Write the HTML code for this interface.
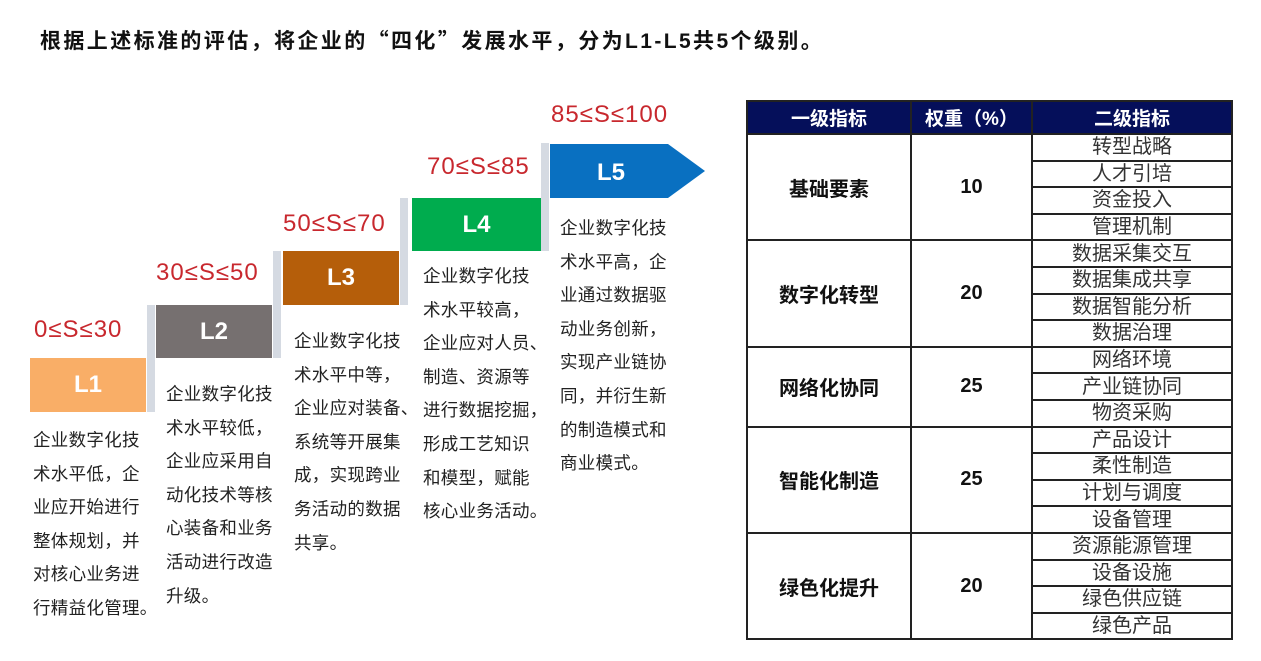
<!DOCTYPE html>
<html><head><meta charset="utf-8"><style>
body{margin:0;width:1261px;height:661px;background:#fff;position:relative;overflow:hidden;font-family:"Liberation Sans","Noto Sans CJK SC",sans-serif}
.a{position:absolute}
.title{left:40px;top:25px;font-size:21px;font-weight:bold;color:#111;white-space:nowrap;letter-spacing:2.4px}
.q{font-family:"Noto Sans CJK SC",sans-serif}
.lab{color:#C8282E;font-size:24px;white-space:nowrap;letter-spacing:1px}
.box{color:#fff;font-weight:bold;font-size:24px;display:flex;align-items:center;justify-content:center}
.bar{background:#D5DAE2;width:8px}
.txt{font-size:17.5px;line-height:33.6px;color:#222;white-space:pre;letter-spacing:0.3px}
table{position:absolute;left:746px;top:100px;width:487px;border-collapse:collapse;font-family:"Liberation Sans","Noto Sans CJK SC",sans-serif}
td,th{border:2px solid #222;padding:0;text-align:center;color:#222}
th{background:#050F5A;color:#fff;height:31px;font-size:19px;font-weight:bold}
td.s{font-size:20px;height:24.6px;line-height:22px;color:#333}
td.g{font-size:20px;font-weight:bold;color:#111}
</style></head><body>
<div class="a title">根据上述标准的评估，将企业的<span class="q">“</span>四化<span class="q">”</span>发展水平，分为L1-L5共5个级别。</div>

<div class="a lab" style="left:34px;top:316px">0≤S≤30</div>
<div class="a lab" style="left:156px;top:259px">30≤S≤50</div>
<div class="a lab" style="left:283px;top:210px">50≤S≤70</div>
<div class="a lab" style="left:427px;top:153px">70≤S≤85</div>
<div class="a lab" style="left:551px;top:101px">85≤S≤100</div>

<div class="a box" style="left:30px;top:358px;width:116px;height:54px;background:#F9AE67">L1</div>
<div class="a bar" style="left:147px;top:305px;height:107px"></div>
<div class="a box" style="left:156px;top:305px;width:116px;height:53px;background:#767070">L2</div>
<div class="a bar" style="left:273px;top:251px;height:107px"></div>
<div class="a box" style="left:283px;top:251px;width:116px;height:54px;background:#B55E0A">L3</div>
<div class="a bar" style="left:400px;top:198px;height:107px"></div>
<div class="a box" style="left:412px;top:198px;width:129px;height:53px;background:#00AC4E">L4</div>
<div class="a bar" style="left:541px;top:143px;height:108px"></div>
<svg class="a" style="left:550px;top:144px" width="160" height="55"><polygon points="0,0 118,0 155,27 118,54 0,54" fill="#0970C1"/><text x="61" y="36" fill="#fff" font-size="24" font-weight="bold" font-family="Liberation Sans,sans-serif" text-anchor="middle">L5</text></svg>

<div class="a txt" style="left:33px;top:424px">企业数字化技
术水平低，企
业应开始进行
整体规划，并
对核心业务进
行精益化管理。</div>
<div class="a txt" style="left:166px;top:378px">企业数字化技
术水平较低，
企业应采用自
动化技术等核
心装备和业务
活动进行改造
升级。</div>
<div class="a txt" style="left:294px;top:325px">企业数字化技
术水平中等，
企业应对装备、
系统等开展集
成，实现跨业
务活动的数据
共享。</div>
<div class="a txt" style="left:423px;top:260px">企业数字化技
术水平较高，
企业应对人员、
制造、资源等
进行数据挖掘，
形成工艺知识
和模型，赋能
核心业务活动。</div>
<div class="a txt" style="left:560px;top:212px">企业数字化技
术水平高，企
业通过数据驱
动业务创新，
实现产业链协
同，并衍生新
的制造模式和
商业模式。</div>

<table>
<tr><th style="width:162px">一级指标</th><th style="width:119px">权重（%）</th><th>二级指标</th></tr>
<tr><td class="g" rowspan="4">基础要素</td><td class="g" rowspan="4">10</td><td class="s">转型战略</td></tr>
<tr><td class="s">人才引培</td></tr><tr><td class="s">资金投入</td></tr><tr><td class="s">管理机制</td></tr>
<tr><td class="g" rowspan="4">数字化转型</td><td class="g" rowspan="4">20</td><td class="s">数据采集交互</td></tr>
<tr><td class="s">数据集成共享</td></tr><tr><td class="s">数据智能分析</td></tr><tr><td class="s">数据治理</td></tr>
<tr><td class="g" rowspan="3">网络化协同</td><td class="g" rowspan="3">25</td><td class="s">网络环境</td></tr>
<tr><td class="s">产业链协同</td></tr><tr><td class="s">物资采购</td></tr>
<tr><td class="g" rowspan="4">智能化制造</td><td class="g" rowspan="4">25</td><td class="s">产品设计</td></tr>
<tr><td class="s">柔性制造</td></tr><tr><td class="s">计划与调度</td></tr><tr><td class="s">设备管理</td></tr>
<tr><td class="g" rowspan="4">绿色化提升</td><td class="g" rowspan="4">20</td><td class="s">资源能源管理</td></tr>
<tr><td class="s">设备设施</td></tr><tr><td class="s">绿色供应链</td></tr><tr><td class="s">绿色产品</td></tr>
</table>
</body></html>
